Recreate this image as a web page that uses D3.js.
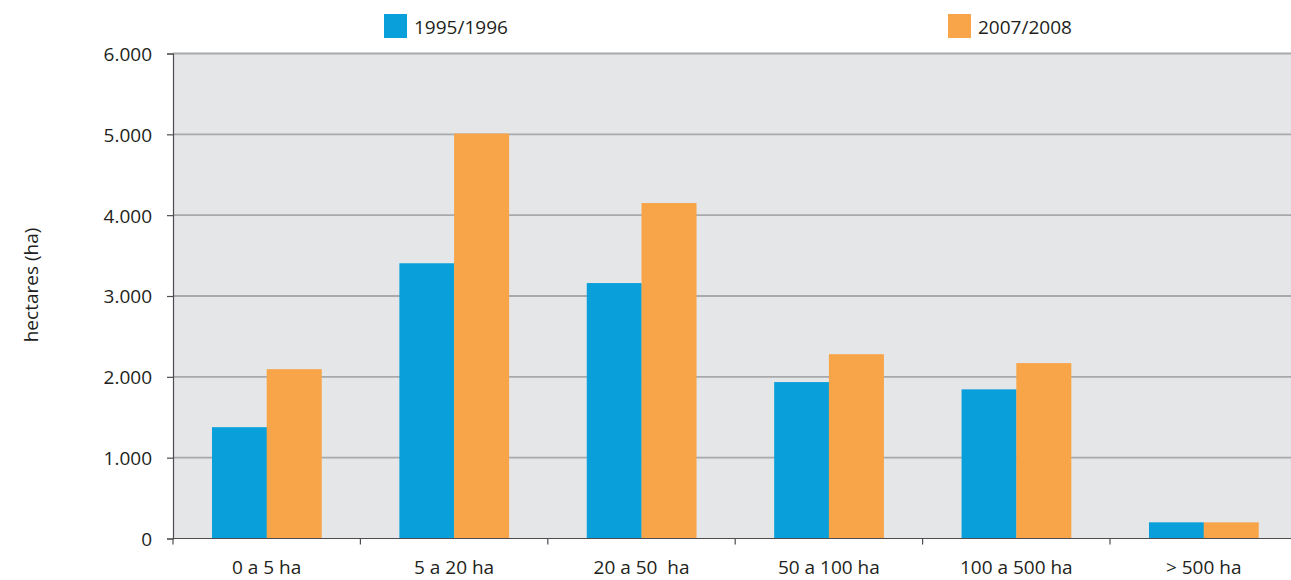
<!DOCTYPE html>
<html>
<head>
<meta charset="utf-8">
<script src="https://cdn.jsdelivr.net/npm/d3@7"></script>
<style>
  html, body { margin: 0; padding: 0; background: #fff; }
  svg text { font-family: "Open Sans", "Noto Sans", sans-serif; fill: #231f20; }
</style>
</head>
<body>
<svg id="chart" width="1291" height="580"></svg>
<script>
// Farm size classes and area totals (hectares) for each survey period
const categories = ["0 a 5 ha", "5 a 20 ha", "20 a 50  ha", "50 a 100 ha", "100 a 500 ha", "> 500 ha"];
const seriesNames = ["1995/1996", "2007/2008"];
const values1995 = [1377, 3405, 3160, 1935, 1845, 200];
const values2007 = [2095, 5010, 4150, 2280, 2170, 200];
const yTicks = [0, 1000, 2000, 3000, 4000, 5000, 6000];
const colors = ["#089fda", "#f8a54a"];

const svg = d3.select("#chart");
const plotLeft = 173, plotTop = 53.5, plotBottom = 538.5, slot = 187.4;
const plotRight = plotLeft + slot * categories.length;
const fontSize = "19px";

const x0 = d3.scaleBand().domain(categories).range([plotLeft, plotRight]).padding(0);
const x1 = d3.scaleBand().domain(seriesNames)
  .range([x0.bandwidth() * 0.208, x0.bandwidth() * (1 - 0.208)]).padding(0);
const y = d3.scaleLinear().domain([0, 6000]).range([plotBottom, plotTop]);

const fmt = v => d3.format(",")(v).replace(/,/g, ".");

// plot background
svg.append("rect")
  .attr("x", plotLeft).attr("y", plotTop)
  .attr("width", plotRight - plotLeft).attr("height", plotBottom - plotTop)
  .attr("fill", "#e5e6e8");

// horizontal gridlines
svg.append("g").selectAll("line")
  .data(yTicks.filter(d => d > 0))
  .join("line")
  .attr("x1", plotLeft).attr("x2", plotRight)
  .attr("y1", d => y(d)).attr("y2", d => y(d))
  .attr("stroke", "#a8a9ab").attr("stroke-width", 1.8);

// bars
const rows = categories.map((c, i) => ({ cat: c, vals: [values1995[i], values2007[i]] }));
svg.append("g").selectAll("g")
  .data(rows)
  .join("g")
  .attr("transform", d => `translate(${x0(d.cat)},0)`)
  .selectAll("rect")
  .data(d => d.vals.map((v, k) => ({ key: seriesNames[k], v, k })))
  .join("rect")
  .attr("x", d => x1(d.key))
  .attr("width", x1.bandwidth() + 0.3)
  .attr("y", d => y(d.v))
  .attr("height", d => y(0) - y(d.v))
  .attr("fill", d => colors[d.k]);

// y axis
const yAxis = svg.append("g")
  .attr("transform", `translate(${plotLeft},0)`)
  .call(d3.axisLeft(y).tickValues(yTicks).tickFormat(fmt).tickSize(6).tickPadding(15));
yAxis.select(".domain").attr("stroke", "#4d4d4f").attr("stroke-width", 1.2);
yAxis.selectAll(".tick line").attr("stroke", "#4d4d4f").attr("stroke-width", 1.2);
yAxis.selectAll(".tick text")
  .style("font-size", fontSize)
  .attr("dy", "0.36em")
  .attr("fill", "#231f20");

// x axis: ticks at slot boundaries, labels centred in slots
const xg = svg.append("g");
xg.append("line")
  .attr("x1", plotLeft).attr("x2", plotRight)
  .attr("y1", plotBottom).attr("y2", plotBottom)
  .attr("stroke", "#4d4d4f").attr("stroke-width", 1.2);
xg.selectAll("line.tk")
  .data(categories)
  .join("line")
  .attr("class", "tk")
  .attr("x1", d => x0(d)).attr("x2", d => x0(d))
  .attr("y1", plotBottom).attr("y2", plotBottom + 6)
  .attr("stroke", "#4d4d4f").attr("stroke-width", 1.2);
xg.selectAll("text")
  .data(categories)
  .join("text")
  .attr("x", d => x0(d) + x0.bandwidth() / 2)
  .attr("y", 574)
  .attr("text-anchor", "middle")
  .style("font-size", fontSize)
  .style("white-space", "pre")
  .text(d => d);

// y axis title
svg.append("text")
  .attr("transform", "translate(38,285) rotate(-90)")
  .attr("text-anchor", "middle")
  .style("font-size", fontSize)
  .text("hectares (ha)");

// legend
const legendX = [384, 948];
const lg = svg.append("g").selectAll("g")
  .data(seriesNames)
  .join("g")
  .attr("transform", (d, i) => `translate(${legendX[i]},14)`);
lg.append("rect").attr("width", 23).attr("height", 24).attr("fill", (d, i) => colors[i]);
lg.append("text").attr("x", 30).attr("y", 20).style("font-size", fontSize).text(d => d);
</script>
</body>
</html>
